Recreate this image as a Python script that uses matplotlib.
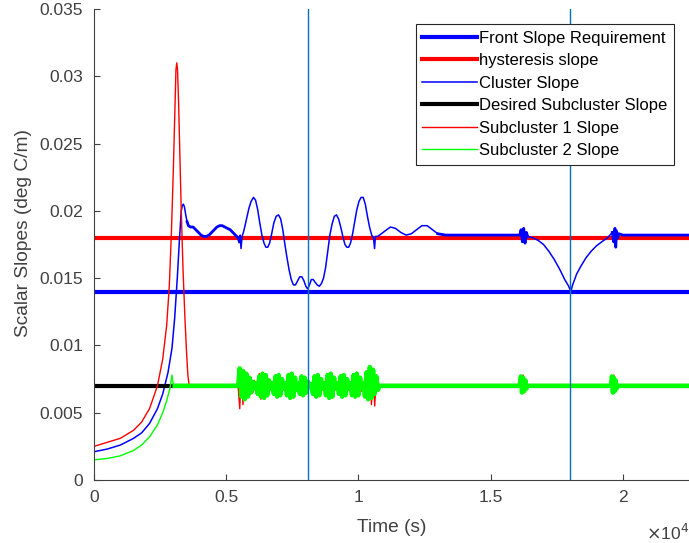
import numpy as np
import matplotlib.pyplot as plt

plt.rcParams['font.family'] = ['Liberation Sans', 'DejaVu Sans']

# reference levels
front_req = 0.014
hyst_slope = 0.018
desired_sub = 0.007
t_end = 22500
vlines_t = [8100, 18000]

# cluster slope
t_cluster = [0, 500, 1000, 1500, 1800, 2100, 2400, 2600, 2800, 2950, 3050, 3150, 3230, 3300,
             3340, 3380, 3420, 3470, 3520, 3570, 3650, 3750, 3850, 3950, 4050, 4150, 4250,
             4350, 4450, 4550, 4650, 4750, 4850, 4950, 5050, 5150, 5250, 5350, 5450, 5500,
             5530, 5560, 5600, 5650, 5700, 5780, 5860, 5940, 6030, 6110, 6190, 6270, 6350,
             6430, 6500, 6570, 6640, 6720, 6800, 6890, 6980, 7060, 7140, 7220, 7300, 7380,
             7460, 7540, 7620, 7700, 7780, 7860, 7940, 8010, 8080, 8150, 8220, 8290, 8360,
             8440, 8520, 8600, 8680, 8760, 8840, 8920, 9000, 9090, 9170, 9250, 9330, 9410,
             9490, 9560, 9630, 9700, 9780, 9860, 9940, 10020, 10100, 10180, 10260, 10340,
             10420, 10500, 10570, 10610, 10640, 10720, 10800, 11000, 11210, 11400, 11600,
             11800, 12000, 12200, 12400, 12600, 12800, 13000, 13300, 16100, 16150, 16200,
             16250, 16300, 16350, 16400, 16600, 16800, 17000, 17200, 17400, 17600, 17800,
             17950, 18030, 18100, 18250, 18400, 18600, 18800, 19000, 19200, 19420, 19600,
             19650, 19700, 19730, 19760, 19800, 19850, 20000, 22500]
y_cluster = [0.0021, 0.0023, 0.0026, 0.0031, 0.0035, 0.0042, 0.0053, 0.0064, 0.0080, 0.0098,
             0.0120, 0.0150, 0.0178, 0.0200, 0.0204, 0.0205, 0.0203, 0.0197, 0.0192, 0.0189,
             0.0188, 0.0188, 0.0186, 0.0184, 0.0182, 0.0181, 0.0181, 0.0182, 0.0184, 0.0186,
             0.0188, 0.0189, 0.0189, 0.0188, 0.0187, 0.0186, 0.0184, 0.0182, 0.0180, 0.0177,
             0.0182, 0.0172, 0.0181, 0.0184, 0.0188, 0.0195, 0.0202, 0.0207, 0.0210, 0.0208,
             0.0201, 0.0191, 0.0182, 0.0176, 0.0173, 0.0173, 0.0176, 0.0183, 0.0191, 0.0196,
             0.0197, 0.0194, 0.0186, 0.0175, 0.0165, 0.0156, 0.0149, 0.0145, 0.0145, 0.0148,
             0.0151, 0.0151, 0.0148, 0.0144, 0.0142, 0.0145, 0.0149, 0.0149, 0.0147, 0.0145,
             0.0144, 0.0146, 0.0150, 0.0158, 0.0170, 0.0182, 0.0190, 0.0196, 0.0197, 0.0194,
             0.0188, 0.0181, 0.0175, 0.0173, 0.0173, 0.0176, 0.0183, 0.0192, 0.0201, 0.0207,
             0.0210, 0.0210, 0.0205, 0.0196, 0.0188, 0.0182, 0.0180, 0.0172, 0.0181, 0.0181,
             0.0182, 0.0185, 0.0188, 0.0187, 0.0184, 0.0182, 0.0183, 0.0186, 0.0189, 0.0189,
             0.0186, 0.0183, 0.0182, 0.0182, 0.0186, 0.0177, 0.0187, 0.0176, 0.0184, 0.0181,
             0.0180, 0.0178, 0.0175, 0.0170, 0.0164, 0.0157, 0.0149, 0.0144, 0.0140, 0.0145,
             0.0153, 0.01585, 0.0165, 0.0170, 0.0174, 0.0177, 0.0180, 0.0184, 0.0177, 0.0187,
             0.0173, 0.0185, 0.0180, 0.0183, 0.0182, 0.0182]

# subcluster 1 (red)
t_sub1 = [0, 0, 500, 1000, 1500, 1800, 2100, 2400, 2600, 2750, 2850, 2930, 3000, 3060, 3100,
          3130, 3160, 3200, 3250, 3300, 3370, 3440, 3500, 3550, 3600, 5400]
y_sub1 = [0.0060, 0.0025, 0.0028, 0.0031, 0.0037, 0.0043, 0.0053, 0.0070, 0.0090, 0.0115,
          0.0145, 0.0185, 0.0230, 0.0275, 0.0305, 0.0310, 0.0305, 0.0280, 0.0240, 0.0200,
          0.0155, 0.0120, 0.0095, 0.0078, 0.0070, 0.0070]
burst1 = [0.0070, 0.0053, 0.0082, 0.0056, 0.0081, 0.0060, 0.0079, 0.0062, 0.0076, 0.0065,
          0.0074, 0.0068, 0.0063, 0.0079, 0.0060, 0.0080, 0.0061, 0.0079, 0.0063, 0.0075,
          0.0067, 0.0073, 0.0063, 0.0078, 0.0061, 0.0079, 0.0062, 0.0076, 0.0067, 0.0073,
          0.0062, 0.0079, 0.0060, 0.0080, 0.0061, 0.0077, 0.0066, 0.0073, 0.0063, 0.0078,
          0.0062, 0.0077, 0.0064, 0.0074, 0.0068, 0.0072, 0.0063, 0.0078, 0.0061, 0.0079,
          0.0062, 0.0076, 0.0067, 0.0073, 0.0062, 0.0079, 0.0060, 0.0080, 0.0061, 0.0077,
          0.0067, 0.0073, 0.0063, 0.0078, 0.0061, 0.0079, 0.0062, 0.0076, 0.0067, 0.0073,
          0.0062, 0.0079, 0.0061, 0.0080, 0.0062, 0.0077, 0.0066, 0.0073, 0.0061, 0.0081,
          0.0059, 0.0083, 0.0056, 0.0082, 0.0055, 0.0078, 0.0066, 0.0070]
small1 = [0.0070, 0.0076, 0.0066, 0.0078, 0.0065, 0.0075, 0.0068, 0.0070]

# subcluster 2 (green)
t_sub2 = [0, 0, 500, 1000, 1500, 1800, 2100, 2400, 2600, 2750, 2870, 2950, 2990, 3050, 5400]
y_sub2 = [0.0008, 0.0015, 0.0016, 0.0018, 0.0022, 0.0026, 0.0032, 0.0041, 0.0050, 0.0059,
          0.0068, 0.0078, 0.0072, 0.0070, 0.0070]
burst2 = [0.0070, 0.0083, 0.0062, 0.0081, 0.0060, 0.0079, 0.0062, 0.0076, 0.0065, 0.0073,
          0.0068, 0.0072, 0.0064, 0.0077, 0.0062, 0.0079, 0.0061, 0.0078, 0.0063, 0.0074,
          0.0068, 0.0072, 0.0064, 0.0077, 0.0062, 0.0078, 0.0063, 0.0075, 0.0068, 0.0072,
          0.0063, 0.0078, 0.0061, 0.0079, 0.0062, 0.0076, 0.0067, 0.0072, 0.0064, 0.0077,
          0.0063, 0.0076, 0.0065, 0.0073, 0.0069, 0.0071, 0.0064, 0.0077, 0.0062, 0.0078,
          0.0063, 0.0075, 0.0068, 0.0072, 0.0063, 0.0078, 0.0061, 0.0079, 0.0062, 0.0076,
          0.0068, 0.0072, 0.0064, 0.0077, 0.0062, 0.0078, 0.0063, 0.0075, 0.0068, 0.0072,
          0.0063, 0.0078, 0.0062, 0.0079, 0.0063, 0.0076, 0.0068, 0.0072, 0.0062, 0.0080,
          0.0060, 0.0084, 0.0061, 0.0082, 0.0064, 0.0077, 0.0067, 0.0070]
small2 = [0.0070, 0.0077, 0.0065, 0.0076, 0.0066, 0.0074, 0.0068, 0.0070]

burst_t = np.linspace(5450, 10800, len(burst1))
small_ta = np.linspace(16100, 16400, len(small1))
small_tb = np.linspace(19550, 19800, len(small1))

t1 = np.concatenate([t_sub1, burst_t, small_ta, small_tb, [t_end]])
y1 = np.concatenate([y_sub1, burst1, small1, small1, [desired_sub]])
t2 = np.concatenate([t_sub2, burst_t, small_ta, small_tb, [t_end]])
y2 = np.concatenate([y_sub2, burst2, small2, small2, [desired_sub]])
t_cluster = np.array(t_cluster)
y_cluster = np.array(y_cluster)

fig = plt.figure(figsize=(6.89, 5.43), dpi=100)
ax = fig.add_axes([0.1364, 0.116, 0.8636, 0.8674])

ax.plot([0, t_end], [front_req] * 2, color='#0000ff', lw=3, label='Front Slope Requirement')
ax.plot([0, t_end], [hyst_slope] * 2, color='#ff0000', lw=3, label='hysteresis slope')
ax.plot(t_cluster, y_cluster, color='#0000ff', lw=1.1, label='Cluster Slope')
# noisy steady stretches look thicker
for a, b in [(3500, 5500), (12900, 16450), (19550, 22500)]:
    m = (t_cluster >= a) & (t_cluster <= b)
    ax.plot(t_cluster[m], y_cluster[m], color='#0000ff', lw=2.0)
ax.plot([0, t_end], [desired_sub] * 2, color='black', lw=3, label='Desired Subcluster Slope')
ax.plot(t1, y1, color='#ff0000', lw=1.0, label='Subcluster 1 Slope')
ax.plot(t2, y2, color='#00ff00', lw=1.0, label='Subcluster 2 Slope')
m2 = t2 >= 3000
ax.plot(t2[m2], y2[m2], color='#00ff00', lw=3.2)
for v in vlines_t:
    ax.axvline(v, color='#0072bd', lw=1.0)

ax.set_xlim(0, t_end)
ax.set_ylim(0, 0.035)
ax.set_xticks([0, 5000, 10000, 15000, 20000])
ax.set_xticklabels(['0', '0.5', '1', '1.5', '2'])
ax.set_yticks([0, 0.005, 0.01, 0.015, 0.02, 0.025, 0.03, 0.035])
ax.set_yticklabels(['0', '0.005', '0.01', '0.015', '0.02', '0.025', '0.03', '0.035'])
ax.tick_params(direction='in', length=4, width=0.8, colors='#404040', labelsize=12.5)
ax.tick_params(axis='y', pad=8)
ax.tick_params(axis='x', pad=7)
for s in ['top', 'right']:
    ax.spines[s].set_visible(False)
for s in ['left', 'bottom']:
    ax.spines[s].set_color('#404040')
    ax.spines[s].set_linewidth(0.8)
ax.set_xlabel('Time (s)', fontsize=13.8, color='#404040', labelpad=10)
ax.set_ylabel('Scalar Slopes (deg C/m)', fontsize=13.8, color='#404040')
ax.yaxis.set_label_coords(-0.104, 0.525)
fig.text(0.938, 0.006, r'$\times$10$^{4}$', fontsize=12.5, color='#404040', va='baseline')

leg = ax.legend(loc='upper right', bbox_to_anchor=(0.975, 0.968), borderaxespad=0,
                fontsize=12, frameon=True, fancybox=False, edgecolor='#262626', framealpha=1,
                handlelength=3.3, handletextpad=0.12, labelspacing=0.45, borderpad=0.4)
leg.get_frame().set_linewidth(0.8)
leg.set_zorder(5)

fig.savefig('out.png', dpi=100)
